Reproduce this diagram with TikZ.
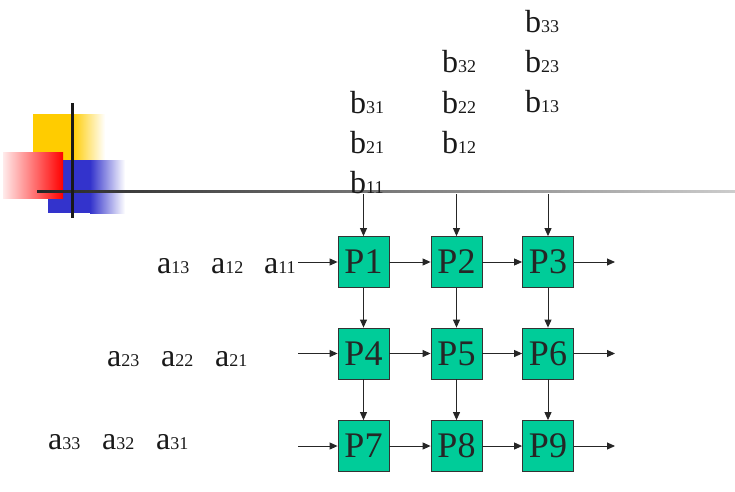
\documentclass[tikz,border=0pt]{standalone}
\usepackage{fontspec}
\setmainfont{Liberation Serif}
\usetikzlibrary{arrows.meta}
\definecolor{procgreen}{RGB}{0,204,153}
\definecolor{decoyellow}{RGB}{255,204,0}
\definecolor{decoblue}{RGB}{51,51,204}
\definecolor{decored}{RGB}{255,0,0}
\newcommand\mylab[2]{{\fontsize{32}{32}\selectfont #1}{\fontsize{18}{18}\selectfont #2}}
\begin{document}
\begin{tikzpicture}[x=1pt,y=-1pt,
  proc/.style={draw=black!80, line width=0.8pt, fill=procgreen, minimum width=51pt, minimum height=51pt, inner sep=0pt, font=\fontsize{36}{36}\selectfont, text=black!85},
  lab/.style={anchor=base west, inner sep=0pt, text=black!90},
  arr/.style={draw=black!85, line width=0.9pt, -{Triangle[length=8pt,width=7pt]}}]
\useasboundingbox (0,0) rectangle (735,491);
% decoration
\fill[decoyellow] (33,114) rectangle (72,160);
\shade[left color=decoyellow, right color=white] (72,114) rectangle (105,160);
\fill[decoblue] (48,160) rectangle (90,213);
\shade[left color=decoblue, right color=white] (90,160) rectangle (125,213);
\shade[left color=decored!8, right color=decored] (3,152) rectangle (63,198);
\shade[left color=black!85, right color=black!20] (37,190) rectangle (735,192.5);
\fill[black!90] (70.5,103) rectangle (73.5,218);
% processors
\node[proc] (p1) at (363.5,262) {P1};
\node[proc] (p2) at (456.5,262) {P2};
\node[proc] (p3) at (548,262) {P3};
\node[proc] (p4) at (363.5,353.5) {P4};
\node[proc] (p5) at (456.5,353.5) {P5};
\node[proc] (p6) at (548,353.5) {P6};
\node[proc] (p7) at (363.5,446) {P7};
\node[proc] (p8) at (456.5,446) {P8};
\node[proc] (p9) at (548,446) {P9};
% free ends
\coordinate (a1) at (298,262);
\coordinate (a2) at (298,353.5);
\coordinate (a3) at (298,446);
\coordinate (o1) at (615,262);
\coordinate (o2) at (615,353.5);
\coordinate (o3) at (615,446);
\coordinate (t1) at (363.5,194);
\coordinate (t2) at (456.5,194);
\coordinate (t3) at (548,194);
% arrows
\draw[arr] (a1) -- (p1);
\draw[arr] (p1) -- (p2);
\draw[arr] (p2) -- (p3);
\draw[arr] (p3) -- (o1);
\draw[arr] (a2) -- (p4);
\draw[arr] (p4) -- (p5);
\draw[arr] (p5) -- (p6);
\draw[arr] (p6) -- (o2);
\draw[arr] (a3) -- (p7);
\draw[arr] (p7) -- (p8);
\draw[arr] (p8) -- (p9);
\draw[arr] (p9) -- (o3);
\draw[arr] (t1) -- (p1);
\draw[arr] (t2) -- (p2);
\draw[arr] (t3) -- (p3);
\draw[arr] (p1) -- (p4);
\draw[arr] (p2) -- (p5);
\draw[arr] (p3) -- (p6);
\draw[arr] (p4) -- (p7);
\draw[arr] (p5) -- (p8);
\draw[arr] (p6) -- (p9);
% b labels
\node[lab] (b31) at (350,113) {\mylab{b}{31}};
\node[lab] (b21) at (350,153) {\mylab{b}{21}};
\node[lab] (b11) at (350,193) {\mylab{b}{11}};
\node[lab] (b32) at (442,72) {\mylab{b}{32}};
\node[lab] (b22) at (442,113) {\mylab{b}{22}};
\node[lab] (b12) at (442,153) {\mylab{b}{12}};
\node[lab] (b33) at (525,32) {\mylab{b}{33}};
\node[lab] (b23) at (525,72) {\mylab{b}{23}};
\node[lab] (b13) at (525,112) {\mylab{b}{13}};
% a labels
\node[lab] (a13) at (157,273) {\mylab{a}{13}};
\node[lab] (a12) at (211,273) {\mylab{a}{12}};
\node[lab] (a11) at (264,273) {\mylab{a}{11}};
\node[lab] (a23) at (107,366) {\mylab{a}{23}};
\node[lab] (a22) at (161,366) {\mylab{a}{22}};
\node[lab] (a21) at (215,366) {\mylab{a}{21}};
\node[lab] (a33) at (48,449) {\mylab{a}{33}};
\node[lab] (a32) at (102,449) {\mylab{a}{32}};
\node[lab] (a31) at (156,449) {\mylab{a}{31}};
\end{tikzpicture}
\end{document}
